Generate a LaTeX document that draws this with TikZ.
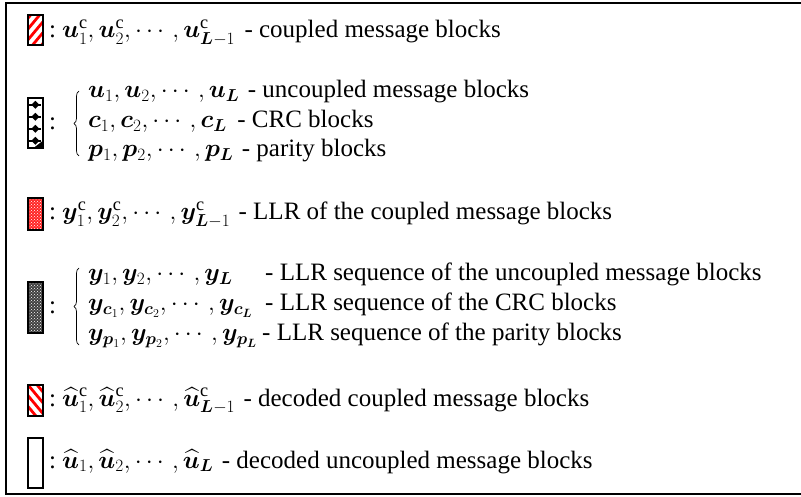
\documentclass[tikz,border=0pt]{standalone}
\usepackage{fontspec}
\setmainfont{Liberation Serif}
\usepackage{amsmath,bm}
\usetikzlibrary{patterns,decorations.pathreplacing}
\begin{document}
\begin{tikzpicture}[x=1pt,y=-1pt,
  txt/.style={anchor=base west, inner sep=0pt, font=\fontsize{25}{29}\selectfont},
  mth/.style={anchor=base west, inner sep=0pt, font=\fontsize{26}{30}\selectfont},
  sw/.style={draw=black, line width=1.6pt, minimum width=15pt, inner sep=0pt, anchor=north west},
  ruleline/.style={line width=2.4pt},
  bracestyle/.style={line width=0.7pt, decorate, decoration={brace, amplitude=5pt, mirror}}]
\clip (0,0) rectangle (801,497);
\fill[white] (0,0) rectangle (801,497);
\draw[ruleline] (6,3) rectangle (810,494);

% swatches
\node[sw, minimum height=30pt, path picture={
  \foreach \i in {-40,-31,...,20}
    \draw[red, line width=2.8pt] ([xshift=\i pt]path picture bounding box.south west) -- ++(30pt,36pt);
}] (s1) at (27,14) {};

\node[sw, minimum height=50pt, path picture={
  \foreach \yy in {7,19,31,43}{
    \fill[black] ([yshift=-\yy pt,xshift=7.5pt]path picture bounding box.north west) +(0,-4pt) -- +(4pt,0) -- +(0,4pt) -- +(-4pt,0) -- cycle;
    \fill[black] ([yshift=-\yy pt,xshift=7.5pt]path picture bounding box.north west) +(-6pt,-1.2pt) rectangle +(6pt,1.2pt);
  }
  \fill[black] (path picture bounding box.south east) -- ++(-9pt,0) -- ++(9pt,7pt) -- cycle;
}] (s2) at (27,97) {};

\node[sw, minimum height=32pt, fill=red!85, path picture={
  \fill[pattern=crosshatch dots, pattern color=white] (path picture bounding box.south west) rectangle (path picture bounding box.north east);
}] (s3) at (27,197) {};

\node[sw, minimum height=51pt, fill=black!75, path picture={
  \fill[pattern=crosshatch dots, pattern color=white] (path picture bounding box.south west) rectangle (path picture bounding box.north east);
}] (s4) at (27,281) {};

\node[sw, minimum height=31pt, path picture={
  \foreach \i in {-10,-1,...,50}
    \draw[red, line width=2.8pt] ([xshift=\i pt]path picture bounding box.south west) -- ++(-30pt,36pt);
}] (s5) at (27,384) {};

\node[sw, minimum height=50pt] (s6) at (27,437) {};

% colons
\node[txt] (k1) at (49,38) {:};
\node[txt] (k2) at (49,130) {:};
\node[txt] (k3) at (49,220) {:};
\node[txt] (k4) at (49,313) {:};
\node[txt] (k5) at (49,406) {:};
\node[txt] (k6) at (49,468) {:};

% braces
\coordinate (b2t) at (79,91);
\coordinate (b2b) at (79,156);
\draw[bracestyle] (b2t) -- (b2b);
\coordinate (b4t) at (79,268);
\coordinate (b4b) at (79,345);
\draw[bracestyle] (b4t) -- (b4b);

% line 1
\node[mth] (m1) at (62,38) {$\bm{u}_1^{\mathrm{c}},\bm{u}_2^{\mathrm{c}},\cdots,\bm{u}_{\bm{L}-1}^{\mathrm{c}}$};
\node[txt] (t1) at ([xshift=9pt]m1.base east) {- coupled message blocks};

% group 2
\node[mth] (m2a) at (88,98) {$\bm{u}_1,\bm{u}_2,\cdots,\bm{u}_{\bm{L}}$};
\node[txt] (t2a) at ([xshift=8pt]m2a.base east) {- uncoupled message blocks};
\node[mth] (m2b) at (88,128) {$\bm{c}_1,\bm{c}_2,\cdots,\bm{c}_{\bm{L}}$};
\node[txt] (t2b) at ([xshift=10pt]m2b.base east) {- CRC blocks};
\node[mth] (m2c) at (88,157) {$\bm{p}_1,\bm{p}_2,\cdots,\bm{p}_{\bm{L}}$};
\node[txt] (t2c) at ([xshift=8pt]m2c.base east) {- parity blocks};

% line 3
\node[mth] (m3) at (62,220) {$\bm{y}_1^{\mathrm{c}},\bm{y}_2^{\mathrm{c}},\cdots,\bm{y}_{\bm{L}-1}^{\mathrm{c}}$};
\node[txt] (t3) at ([xshift=8pt]m3.base east) {- LLR of the coupled message blocks};

% group 4
\node[mth] (m4a) at (88,281) {$\bm{y}_1,\bm{y}_2,\cdots,\bm{y}_{\bm{L}}$};
\node[txt] (t4a) at (265,281) {- LLR sequence of the uncoupled message blocks};
\node[mth] (m4b) at (88,311) {$\bm{y}_{\bm{c}_1},\bm{y}_{\bm{c}_2},\cdots,\bm{y}_{\bm{c}_{\bm{L}}}$};
\node[txt] (t4b) at (265,311) {- LLR sequence of the CRC blocks};
\node[mth] (m4c) at (88,341) {$\bm{y}_{\bm{p}_1},\bm{y}_{\bm{p}_2},\cdots,\bm{y}_{\bm{p}_{\bm{L}}}$};
\node[txt] (t4c) at (262,341) {- LLR sequence of the parity blocks};

% line 5
\node[mth] (m5) at (62,406) {$\widehat{\bm{u}}_1^{\mathrm{c}},\widehat{\bm{u}}_2^{\mathrm{c}},\cdots,\widehat{\bm{u}}_{\bm{L}-1}^{\mathrm{c}}$};
\node[txt] (t5) at ([xshift=8pt]m5.base east) {- decoded coupled message blocks};

% line 6
\node[mth] (m6) at (62,468) {$\widehat{\bm{u}}_1,\widehat{\bm{u}}_2,\cdots,\widehat{\bm{u}}_{\bm{L}}$};
\node[txt] (t6) at ([xshift=8pt]m6.base east) {- decoded uncoupled message blocks};
\end{tikzpicture}
\end{document}
